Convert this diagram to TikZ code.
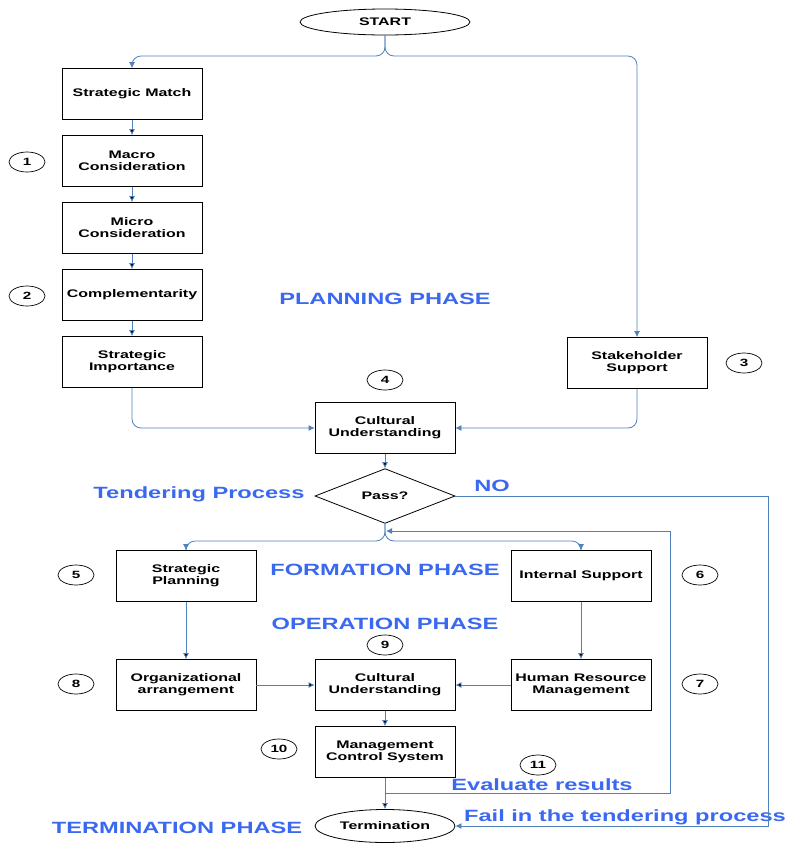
\documentclass[tikz,border=0pt]{standalone}
\usepackage{fontspec}
\setmainfont{Liberation Sans}[FakeStretch=1.45]
\usetikzlibrary{arrows.meta,shapes}
\definecolor{flowblue}{RGB}{79,129,189}
\definecolor{labelblue}{RGB}{58,104,240}

\begin{document}
\begin{tikzpicture}[x=1pt,y=-1pt,>={Latex[length=6pt,width=6pt]},node distance=67pt,
    box/.style={rectangle,draw,line width=0.8pt,minimum width=140pt,minimum height=51pt,
                align=center,font=\bfseries\fontsize{11}{12}\selectfont},
    oval/.style={ellipse,draw,line width=0.8pt,align=center,font=\bfseries\fontsize{11}{12}\selectfont},
    num/.style={ellipse,draw,line width=0.7pt,minimum width=36pt,minimum height=20pt,inner sep=0pt,
                font=\bfseries\fontsize{10.5}{12}\selectfont},
    phase/.style={text=labelblue,font=\bfseries\fontsize{16.3}{18}\selectfont,inner sep=0pt},
    flow/.style={->,draw=flowblue,line width=0.8pt,rounded corners=9pt}]
  \useasboundingbox (0,0) rectangle (788,844);

  % planning phase
  \node[oval,minimum width=170pt,minimum height=26pt] (start) at (385,22) {START};
  \node[box] (sm) at (132,94) {Strategic Match};
  \node[box] (mac) [below of=sm] {Macro\\Consideration};
  \node[box] (mic) [below of=mac] {Micro\\Consideration};
  \node[box] (comp) [below of=mic] {Complementarity};
  \node[box] (si) [below of=comp] {Strategic\\Importance};
  \node[box] (ss) at (637,363) {Stakeholder\\Support};
  \node[box] (cu1) at (385,428) {Cultural\\Understanding};
  \node[diamond,draw,line width=0.8pt,minimum width=140pt,minimum height=50pt,inner sep=0pt,
        font=\bfseries\fontsize{11}{12}\selectfont] (pass) at (385,496) {Pass?};

  % formation and operation phase
  \node[box] (sp) at (186,576) {Strategic\\Planning};
  \node[box] (is) at (581,576) {Internal Support};
  \node[box] (oa) at (186,685) {Organizational\\arrangement};
  \node[box] (cu2) at (385,685) {Cultural\\Understanding};
  \node[box] (hrm) at (581,685) {Human Resource\\Management};
  \node[box] (mcs) at (385,752) {Management\\Control System};
  \node[oval,minimum width=140pt,minimum height=33pt] (term) at (385,826) {Termination};

  % numbers
  \node[num] (n1) at (27,162) {1};
  \node[num] (n2) at (27,296) {2};
  \node[num] (n3) at (744,363) {3};
  \node[num] (n4) at (385,380) {4};
  \node[num] (n5) at (76,575) {5};
  \node[num] (n6) at (700,575) {6};
  \node[num] (n7) at (700,684) {7};
  \node[num] (n8) at (76,684) {8};
  \node[num] (n9) at (385,645) {9};
  \node[num] (n10) at (279,749) {10};
  \node[num] (n11) at (538,765) {11};

  % phase labels
  \node[phase] (lplan) at (385,299) {PLANNING PHASE};
  \node[phase] (ltender) at (199,494) {Tendering Process};
  \node[phase] (lno) at (492,486) {NO};
  \node[phase] (lform) at (385,570) {FORMATION PHASE};
  \node[phase] (loper) at (385,624) {OPERATION PHASE};
  \node[phase] (leval) at (542,785) {Evaluate results};
  \node[phase] (lfail) at (625,817) {Fail in the tendering process};
  \node[phase] (lterm) at (177,828) {TERMINATION PHASE};

  \coordinate (fork1) at (385,56);
  \coordinate (fork2) at (385,541);
  \coordinate (evalpt) at (385,793);
  \coordinate (loop) at (670,531);
  \coordinate (back) at (386,531);
  \coordinate (nocorner) at (768,496);

  \path[flow]
    (sm) edge (mac)
    (mac) edge (mic)
    (mic) edge (comp)
    (comp) edge (si)
    (cu1) edge (pass)
    (sp) edge (oa)
    (is) edge (hrm)
    (oa) edge (cu2)
    (hrm) edge (cu2)
    (cu2) edge (mcs)
    (mcs) edge (term);

  \draw[flow] (start.south) -- (fork1) -| (sm.north);
  \draw[flow] (start.south) -- (fork1) -| (ss.north);
  \draw[flow] (si.south) |- (cu1.west);
  \draw[flow] (ss.south) |- (cu1.east);
  \draw[flow] (pass.south) -- (fork2) -| (sp.north);
  \draw[flow] (pass.south) -- (fork2) -| (is.north);
  \draw[flow,rounded corners=0pt] (evalpt) -| (loop) -- (back);
  \draw[flow,rounded corners=0pt] (pass.east) -- (nocorner) |- (term.east);
\end{tikzpicture}
\end{document}
